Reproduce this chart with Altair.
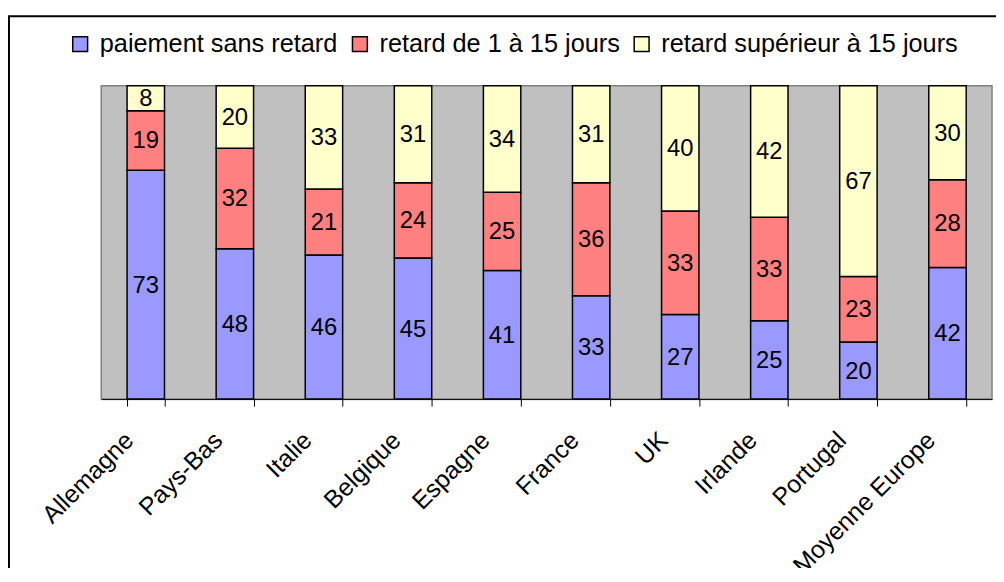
import altair as alt
import pandas as pd

pays = ["Allemagne", "Pays-Bas", "Italie", "Belgique", "Espagne", "France",
        "UK", "Irlande", "Portugal", "Moyenne Europe"]
series = ["paiement sans retard", "retard de 1 à 15 jours", "retard supérieur à 15 jours"]
paiement = [73, 48, 46, 45, 41, 33, 27, 25, 20, 42]
retard_1_15 = [19, 32, 21, 24, 25, 36, 33, 33, 23, 28]
retard_sup_15 = [8, 20, 33, 31, 34, 31, 40, 42, 67, 30]
couleurs = ["#9999FF", "#FF8080", "#FFFFCC"]

rows = []
for i, p in enumerate(pays):
    for k, (s, vals) in enumerate(zip(series, [paiement, retard_1_15, retard_sup_15])):
        rows.append({"pays": p, "serie": s, "valeur": vals[i], "ordre": k})
df = pd.DataFrame(rows)

FONT = "Liberation Sans"

x_enc = alt.X(
    "pays:N", sort=pays, title=None,
    scale=alt.Scale(paddingInner=0.58, paddingOuter=0.29),
    axis=alt.Axis(labelAngle=-45, labelFontSize=25, labelColor="black",
                  labelFont=FONT, domainColor="black", tickColor="black",
                  tickBand="extent", tickSize=7, labelPadding=30,
                  labelOffset=-17,
                  labelAlign="right", labelBaseline="middle", grid=False,
                  labelLimit=400),
)

base = alt.Chart(df)

bars = base.mark_bar(stroke="black", strokeWidth=1.5).encode(
    x=x_enc,
    y=alt.Y("valeur:Q", stack="normalize", axis=None,
            scale=alt.Scale(domain=[0, 1], nice=False)),
    color=alt.Color(
        "serie:N", sort=series,
        scale=alt.Scale(domain=series, range=couleurs),
        legend=alt.Legend(
            title=None, orient="none", direction="horizontal",
            legendX=-34, legendY=-55, padding=0,
            symbolType="square", symbolSize=225, symbolStrokeColor="black",
            symbolStrokeWidth=1.5, symbolOpacity=1, labelFontSize=25.5,
            labelFont=FONT, labelColor="black", columnPadding=9,
            labelOffset=7, labelLimit=600,
        ),
    ),
    order=alt.Order("ordre:Q"),
)

labels = base.transform_joinaggregate(
    total="sum(valeur)", groupby=["pays"]
).transform_window(
    cum="sum(valeur)", sort=[alt.SortField("ordre")], groupby=["pays"],
    frame=[None, 0],
).transform_calculate(
    mid="(datum.cum - datum.valeur / 2) / datum.total"
).mark_text(fontSize=24, font=FONT, color="black", baseline="middle", dy=1).encode(
    x=alt.X("pays:N", sort=pays),
    y=alt.Y("mid:Q", scale=alt.Scale(domain=[0, 1], nice=False), axis=None),
    text=alt.Text("valeur:Q"),
)

frame = alt.Chart(pd.DataFrame({"a": [0]})).mark_rect(
    fillOpacity=0, stroke="black", strokeWidth=2
).encode(
    x=alt.value(-93), x2=alt.value(910), y=alt.value(-70), y2=alt.value(560)
)

chart = alt.layer(bars, labels, frame).properties(
    width=898, height=316,
    autosize=alt.AutoSizeParams(type="none"),
    padding={"left": 94, "top": 76, "right": 4, "bottom": 168},
    background="white",
).configure(
    font=FONT
).configure_view(
    fill="#C0C0C0", stroke="#808080", strokeWidth=1.5
)

chart.save("out.html", embed_options={"renderer": "svg", "actions": False})
